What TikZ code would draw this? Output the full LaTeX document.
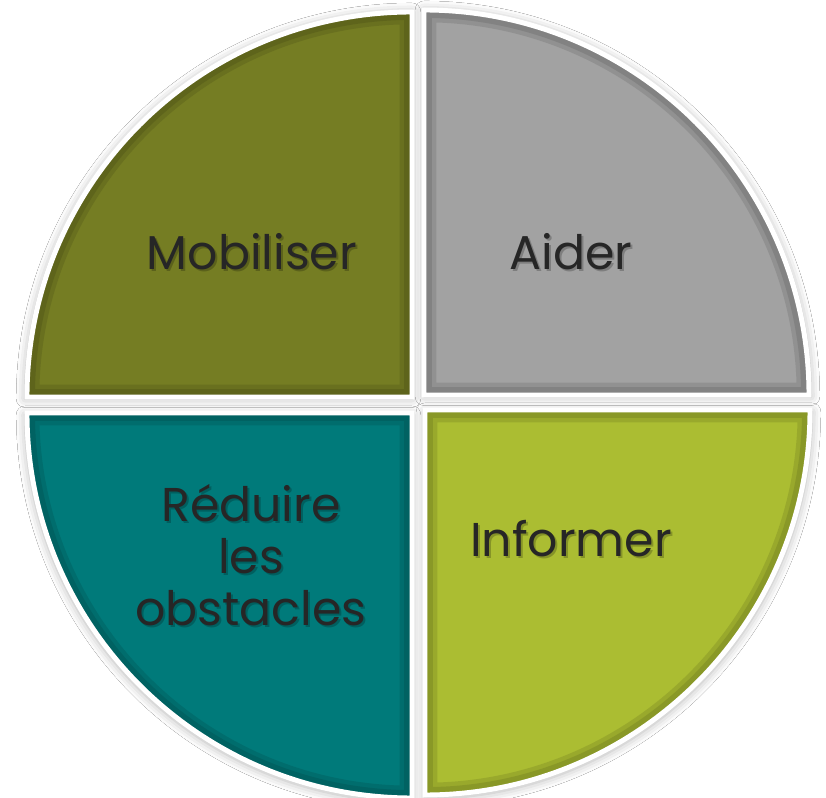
\documentclass[tikz,border=0pt]{standalone}
\usepackage{fontspec}
\setmainfont{Poppins}
\usetikzlibrary{shadows.blur}
\definecolor{mobcol}{HTML}{757D23}
\definecolor{aidcol}{HTML}{A2A2A2}
\definecolor{redcol}{HTML}{007A7A}
\definecolor{infcol}{HTML}{ABBD32}
\definecolor{textgray}{HTML}{262626}

\begin{document}
\begin{tikzpicture}[x=0.02cm,y=0.02cm,
    shade quart/.style={fill=white,blur shadow={shadow xshift=0pt,shadow yshift=-1pt,shadow blur radius=5pt,shadow opacity=30}},
    rim/.style={draw=white,line width=2.8pt},
    word/.style={font=\fontsize{27}{29.5}\selectfont,text=textgray,align=center},
    wordshadow/.style={word,text=black,opacity=.22}]
  \useasboundingbox (0,0) rectangle (826,798);
  \fill[white] (0,0) rectangle (826,798);

  % soft shadows first
  \foreach \cx/\cy/\a in {412/401/90,424/403/0,412/385/180,425/388/270}
    \fill[shade quart] (\cx,\cy) -- ++(\a:387) arc[start angle=\a,end angle=\a+90,radius=387] -- cycle;

  % the four quarters
  \foreach \cx/\cy/\a/\c in {412/401/90/mobcol,424/403/0/aidcol,412/385/180/redcol,425/388/270/infcol}{
    \fill[\c] (\cx,\cy) -- ++(\a:385) arc[start angle=\a,end angle=\a+90,radius=385] -- cycle;
    \begin{scope}
      \clip (\cx,\cy) -- ++(\a:385) arc[start angle=\a,end angle=\a+90,radius=385] -- cycle;
      \draw[\c!60!black,line width=14pt,opacity=.25] (\cx,\cy) -- ++(\a:385) arc[start angle=\a,end angle=\a+90,radius=385] -- cycle;
      \draw[\c!60!black,line width=9pt,opacity=.3] (\cx,\cy) -- ++(\a:385) arc[start angle=\a,end angle=\a+90,radius=385] -- cycle;
    \end{scope}
    \draw[rim] (\cx,\cy) -- ++(\a:385) arc[start angle=\a,end angle=\a+90,radius=385] -- cycle;
  }

  % labels
  \node[wordshadow,anchor=base] (mobs) at (254,526) {Mobiliser};
  \node[word,anchor=base] (mob) at (252,528) {Mobiliser};
  \node[wordshadow,anchor=base] (aids) at (573,526) {Aider};
  \node[word,anchor=base] (aid) at (571,528) {Aider};
  \node[wordshadow,anchor=base] (infs) at (573,239) {Informer};
  \node[word,anchor=base] (inf) at (571,241) {Informer};
  \node[wordshadow] (reds) at (253,241) {Réduire\\les\\obstacles};
  \node[word] (red) at (251,243) {Réduire\\les\\obstacles};
\end{tikzpicture}
\end{document}
